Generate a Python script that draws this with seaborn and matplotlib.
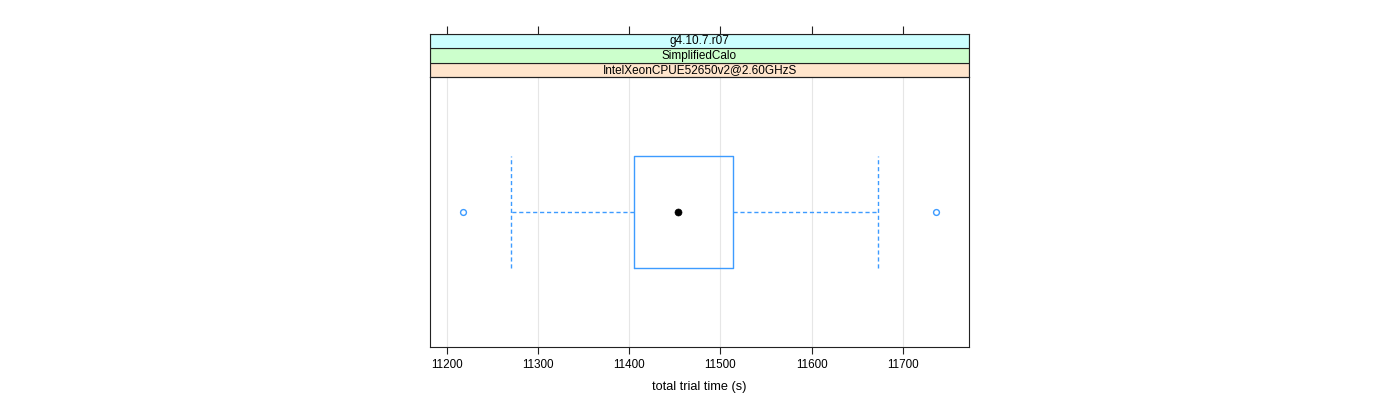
import matplotlib
matplotlib.use("Agg")
import matplotlib.pyplot as plt
import seaborn as sns
from matplotlib.patches import Rectangle

# strip labels, bottom to top (lattice order)
strip_labels = ["IntelXeonCPUE52650v2@2.60GHzS", "SimplifiedCalo", "g4.10.7.r07"]
strip_colors = ["#ffe5cc", "#ccffcc", "#ccffff"]

# box-and-whisker stats for total trial time (s)
whisker_lo = 11270.4
q1 = 11405.3
median = 11453.5
q3 = 11513.8
whisker_hi = 11672.8
outliers = [11217.8, 11736.4]

x_ticks = [11200, 11300, 11400, 11500, 11600, 11700]
x_label = "total trial time (s)"

sns.set_style("white")
plt.rcParams["font.family"] = ["Liberation Sans", "DejaVu Sans"]

W, H = 1400, 400
fig = plt.figure(figsize=(14, 4), dpi=100)

left, right = 430 / W, 969 / W
p_top, p_bot = 77 / H, 347 / H
s_top = 34 / H

ax = fig.add_axes([left, 1 - p_bot, right - left, p_bot - p_top])
ax_s = fig.add_axes([left, 1 - p_top, right - left, p_top - s_top], sharex=ax)

blue = "#3d9bff"
edge = "#222222"
stats = [dict(whislo=whisker_lo, q1=q1, med=median, q3=q3,
              whishi=whisker_hi, fliers=outliers)]
box_w = 0.415
ax.bxp(stats, positions=[0], widths=box_w, capwidths=box_w,
       orientation="horizontal", showfliers=True,
       boxprops=dict(color=blue, lw=1.0),
       whiskerprops=dict(color=blue, lw=1.0, ls=(0, (3, 2))),
       capprops=dict(color=blue, lw=1.0, ls=(0, (3, 2))),
       medianprops=dict(visible=False),
       flierprops=dict(marker="o", markerfacecolor="none",
                       markeredgecolor=blue, markersize=4.2, mew=1.0))
sns.scatterplot(x=[median], y=[0], ax=ax, color="black", s=26,
                edgecolor="black", zorder=5)

ax.set_xlim(11181.5, 11772.7)
ax.set_ylim(-0.5, 0.5)
ax.set_xticks(x_ticks)
ax.set_xticklabels([str(t) for t in x_ticks], fontsize=8.4, color="black")
ax.set_yticks([])
ax.set_ylabel("")
ax.set_xlabel(x_label, fontsize=9.2, labelpad=7, color="black")
ax.tick_params(axis="x", bottom=True, direction="out", length=5,
               width=0.8, color=edge, pad=4)
ax.grid(axis="x", color="#e6e6e6", lw=0.8)
ax.set_axisbelow(True)
for sp in ax.spines.values():
    sp.set_color(edge)
    sp.set_linewidth(0.8)

# strips
n = len(strip_labels)
for i, (lab, col) in enumerate(zip(strip_labels, strip_colors)):
    ax_s.add_patch(Rectangle((0, i / n), 1, 1 / n, transform=ax_s.transAxes,
                             facecolor=col, edgecolor=edge, lw=0.8))
    ax_s.text(0.5, (i + 0.5) / n, lab, transform=ax_s.transAxes,
              ha="center", va="center", fontsize=8.5, color="black")
ax_s.set_ylim(0, 1)
ax_s.set_yticks([])
ax_s.tick_params(axis="x", top=True, bottom=False, labeltop=False,
                 labelbottom=False, direction="out", length=6,
                 width=0.8, color=edge)
for sp in ax_s.spines.values():
    sp.set_color(edge)
    sp.set_linewidth(0.8)

fig.savefig("out.png", dpi=100)
